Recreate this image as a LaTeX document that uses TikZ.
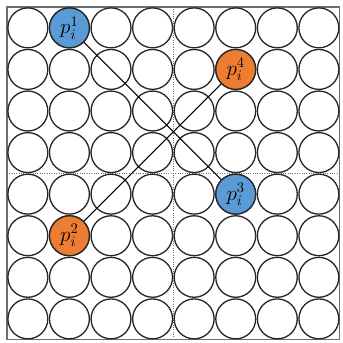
\documentclass[tikz,border=0pt]{standalone}
\usepackage{amsmath}
\usepackage{xcolor}
\definecolor{ptblue}{RGB}{91,155,213}
\definecolor{ptorange}{RGB}{237,125,49}
\definecolor{framegray}{RGB}{110,110,110}
\usepackage{tikz}
\usetikzlibrary{positioning}

\tikzset{
  cell/.style={circle, draw=black!85, line width=0.9pt, minimum size=0.96cm, inner sep=0pt},
  pcell/.style={cell, font=\Large},
  link/.style={draw=black, line width=0.8pt}
}

\begin{document}
\begin{tikzpicture}
  \useasboundingbox (-0.17,-0.08) rectangle (8.08,8.17);

  % Frame and quadrant dividers
  \draw[framegray, line width=1pt] (0,0) rectangle (8,8);
  \draw[framegray, densely dotted, line width=0.6pt] (4,0) -- (4,8);
  \draw[framegray, densely dotted, line width=0.6pt] (0,4) -- (8,4);

  % Grid of particles
  \foreach \c in {0,...,7}
    \foreach \r in {0,...,7}
      \node[cell] (c\c r\r) at (\c+0.5,\r+0.5) {};

  % Marked particles
  \node[pcell, fill=ptblue]   (p1) at (1.5,7.5) {$p_i^1$};
  \node[pcell, fill=ptorange] (p2) at (1.5,2.5) {$p_i^2$};
  \node[pcell, fill=ptblue]   (p3) at (5.5,3.5) {$p_i^3$};
  \node[pcell, fill=ptorange] (p4) at (5.5,6.5) {$p_i^4$};

  % Connections
  \draw[link] (p1) -- (p3);
  \draw[link] (p2) -- (p4);
\end{tikzpicture}
\end{document}
